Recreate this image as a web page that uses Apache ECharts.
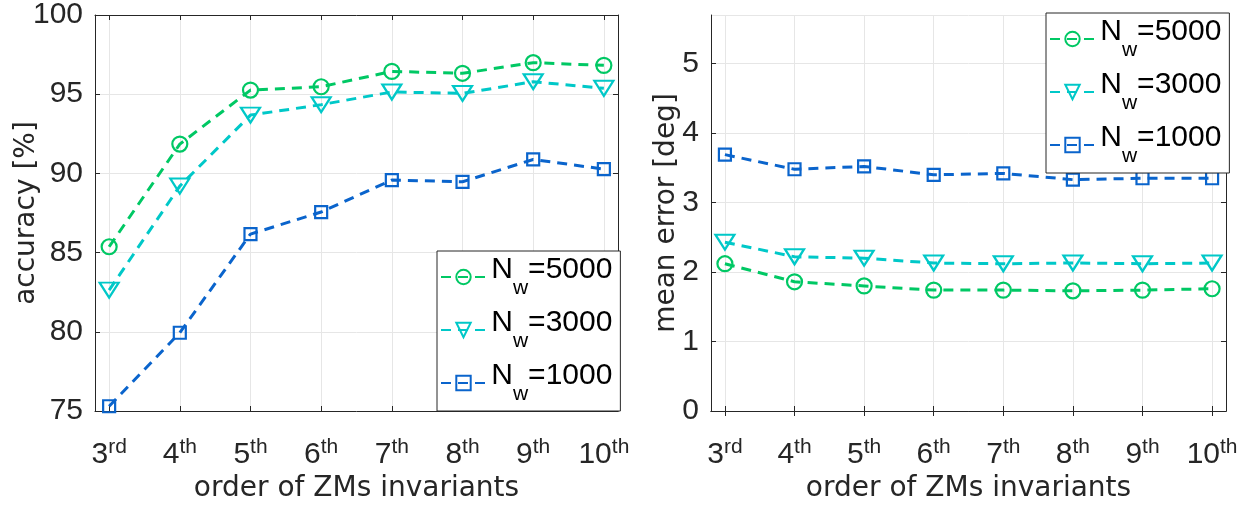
<!DOCTYPE html>
<html>
<head>
<meta charset="utf-8">
<script src="https://cdn.jsdelivr.net/npm/echarts@6/dist/echarts.min.js"></script>
<style>
  html, body { margin: 0; padding: 0; background: #fff; }
  #main { width: 1247px; height: 506px; }
</style>
</head>
<body>
<div id="main"></div>
<script>
// order of ZMs invariants (x)
var orders = [3, 4, 5, 6, 7, 8, 9, 10];
var suffixes = ['rd', 'th', 'th', 'th', 'th', 'th', 'th', 'th'];
var seriesNames = ['Nw=5000', 'Nw=3000', 'Nw=1000'];
var legendValues = ['=5000', '=3000', '=1000'];

// accuracy [%]
var accW5000 = [85.37, 91.85, 95.26, 95.47, 96.44, 96.32, 96.99, 96.82];
var accW3000 = [82.63, 89.2, 93.68, 94.34, 95.14, 95.05, 95.79, 95.37];
var accW1000 = [75.3, 79.94, 86.17, 87.56, 89.58, 89.47, 90.88, 90.27];

// mean error [deg]
var errW5000 = [2.12, 1.86, 1.80, 1.74, 1.74, 1.73, 1.74, 1.76];
var errW3000 = [2.43, 2.22, 2.20, 2.13, 2.12, 2.13, 2.12, 2.13];
var errW1000 = [3.69, 3.48, 3.52, 3.40, 3.42, 3.33, 3.35, 3.35];

var accTicks = [75, 80, 85, 90, 95, 100];
var errTicks = [0, 1, 2, 3, 4, 5];

var colors = ['#00c864', '#00c8c8', '#0a64cc'];
var symbols = ['circle', 'triangle', 'rect'];
var symbolSizes = [15, [19, 15], 12];
var symbolRotates = [0, 180, 0];

var axisColor = '#262626';
var gridColor = '#e6e6e6';
var numFont = "'Liberation Sans', Arial, sans-serif";
var nameFont = "'DejaVu Sans', sans-serif";

function pairs(vals) {
    return orders.map(function (o, i) { return [o, vals[i]]; });
}

function xLabel(v) {
    var i = orders.indexOf(v);
    if (i < 0) return '';
    return '{n|' + v + '}{s|' + suffixes[i] + '}';
}

function bottomX(gi) {
    return {
        type: 'value', gridIndex: gi, min: 2.8, max: 10.2,
        name: 'order of ZMs invariants', nameLocation: 'middle', nameGap: 64, nameMoveOverlap: false,
        nameTextStyle: { fontFamily: nameFont, fontSize: 28, color: axisColor },
        axisLine: { lineStyle: { color: axisColor, width: 1 } },
        axisTick: { inside: true, length: 5, customValues: orders, lineStyle: { color: axisColor } },
        axisLabel: {
            customValues: orders, margin: 26, formatter: xLabel,
            rich: {
                n: { fontFamily: numFont, fontSize: 30, color: axisColor, lineHeight: 36 },
                s: { fontFamily: numFont, fontSize: 21, color: axisColor, lineHeight: 11, verticalAlign: 'top' }
            }
        },
        splitLine: { show: true, lineStyle: { color: gridColor, width: 1 } }
    };
}

function topX(gi) {
    return {
        type: 'value', gridIndex: gi, min: 2.8, max: 10.2, position: 'top',
        axisLine: { lineStyle: { color: axisColor, width: 1 } },
        axisTick: { inside: true, length: 5, customValues: orders, lineStyle: { color: axisColor } },
        axisLabel: { show: false },
        splitLine: { show: false }
    };
}

function leftY(gi, min, max, interval, name, gap) {
    return {
        type: 'value', gridIndex: gi, min: min, max: max, interval: interval,
        name: name, nameLocation: 'middle', nameGap: gap, nameMoveOverlap: false,
        nameTextStyle: { fontFamily: nameFont, fontSize: 28, color: axisColor },
        axisLine: { show: true, lineStyle: { color: axisColor, width: 1 } },
        axisTick: { show: true, inside: true, length: 5, lineStyle: { color: axisColor } },
        axisLabel: { fontFamily: numFont, fontSize: 30, color: axisColor, margin: 12, showMaxLabel: max % interval === 0 },
        splitLine: { show: true, lineStyle: { color: gridColor, width: 1 } }
    };
}

function rightY(gi, min, max, interval) {
    return {
        type: 'value', gridIndex: gi, min: min, max: max, interval: interval, position: 'right',
        axisLine: { show: true, lineStyle: { color: axisColor, width: 1 } },
        axisTick: { show: true, inside: true, length: 5, lineStyle: { color: axisColor } },
        axisLabel: { show: false },
        splitLine: { show: false }
    };
}

function makeSeries(k, vals, xi, yi) {
    return {
        name: seriesNames[k], type: 'line',
        xAxisIndex: xi, yAxisIndex: yi,
        data: pairs(vals),
        symbol: symbols[k], symbolSize: symbolSizes[k], symbolRotate: symbolRotates[k],
        showAllSymbol: true,
        lineStyle: { color: colors[k], width: 3, type: [10, 7] },
        itemStyle: { color: 'rgba(255,255,255,0)', borderColor: colors[k], borderWidth: 2.2 },
        emphasis: { disabled: true },
        z: 3 - k + 2
    };
}

function makeLegend(left, top) {
    return {
        orient: 'vertical', left: left, top: top,
        data: seriesNames,
        padding: [4, 8, 6, 3], itemGap: 9, itemWidth: 45, itemHeight: 18,
        backgroundColor: '#fff', borderColor: axisColor, borderWidth: 1,
        selectedMode: false,
        formatter: function (name) {
            var i = seriesNames.indexOf(name);
            return '{h| }{n|N}{w|w}{n|' + legendValues[i] + '}';
        },
        textStyle: {
            rich: {
                h: { fontSize: 1, lineHeight: 44 },
                n: { fontFamily: numFont, fontSize: 30, color: '#000', lineHeight: 34, verticalAlign: 'top' },
                w: { fontFamily: numFont, fontSize: 21, color: '#000', lineHeight: 18, verticalAlign: 'bottom' }
            }
        }
    };
}

var chart = echarts.init(document.getElementById('main'), null, { renderer: 'canvas' });
chart.setOption({
    animation: false,
    backgroundColor: '#fff',
    grid: [
        { left: 95, top: 15, width: 523, height: 396, outerBoundsMode: 'none', containLabel: false },
        { left: 711, top: 15, width: 515, height: 396, outerBoundsMode: 'none', containLabel: false }
    ],
    xAxis: [bottomX(0), bottomX(1), topX(0), topX(1)],
    yAxis: [
        leftY(0, accTicks[0], accTicks[accTicks.length - 1], 5, 'accuracy [%]', 54),
        leftY(1, errTicks[0], 5.7, 1, 'mean error [deg]', 30),
        rightY(0, accTicks[0], accTicks[accTicks.length - 1], 5),
        rightY(1, errTicks[0], 5.7, 1)
    ],
    legend: [makeLegend(437, 251), makeLegend(1046, 13)],
    series: [
        makeSeries(0, accW5000, 0, 0),
        makeSeries(1, accW3000, 0, 0),
        makeSeries(2, accW1000, 0, 0),
        makeSeries(0, errW5000, 1, 1),
        makeSeries(1, errW3000, 1, 1),
        makeSeries(2, errW1000, 1, 1)
    ]
});
</script>
</body>
</html>
